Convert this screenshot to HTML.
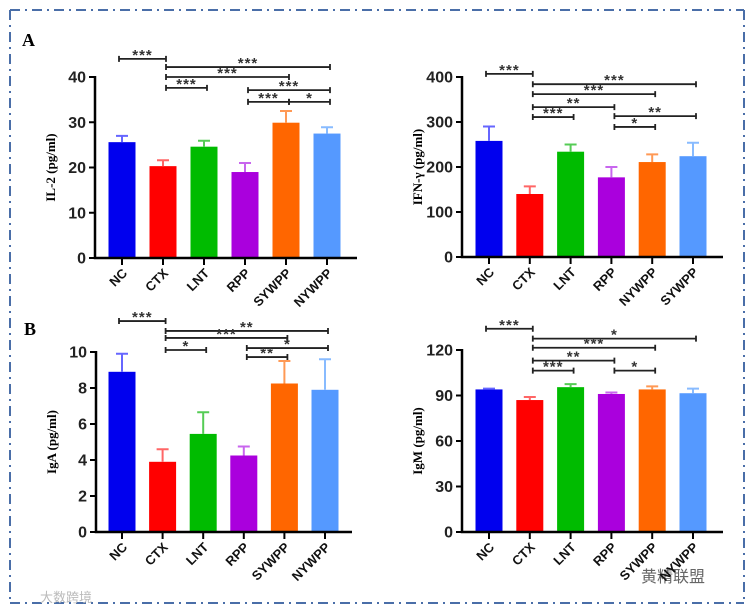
<!DOCTYPE html>
<html><head><meta charset="utf-8"><style>
body{margin:0;background:#fff;}
svg{display:block;font-family:"Liberation Sans",Arial,sans-serif;}
</style></head><body>
<svg id="fig" width="753" height="614" viewBox="0 0 753 614">
<g stroke="#4a6ea8" stroke-width="2" stroke-dasharray="10,5,2,5" fill="none">
<line x1="10" y1="10" x2="744" y2="10"/><line x1="10" y1="603" x2="744" y2="603"/>
<line x1="10" y1="10" x2="10" y2="603"/><line x1="744" y1="10" x2="744" y2="603"/>
</g>
<text x="22" y="46" font-family="Liberation Serif,serif" font-weight="bold" font-size="18">A</text>
<text x="24" y="335" font-family="Liberation Serif,serif" font-weight="bold" font-size="18">B</text>
<text x="705" y="582" font-family="Liberation Sans,'Noto Sans CJK SC',sans-serif" font-size="16" fill="#666" text-anchor="end">黄精联盟</text>
<text x="40" y="602" font-family="Liberation Sans,'Noto Sans CJK SC',sans-serif" font-size="13" fill="#bbb">大数跨境</text>
</svg>
<script>
const colors=["#0000ee","#ff0000","#00bb00","#aa00dd","#ff6600","#5599ff"];
const errColors=["#6666ff","#ff6666","#55cc55","#c866ee","#ff9955","#88bbff"];
const catsA1=["NC","CTX","LNT","RPP","SYWPP","NYWPP"];
const catsA2=["NC","CTX","LNT","RPP","NYWPP","SYWPP"];
const catsB1=["NC","CTX","LNT","RPP","SYWPP","NYWPP"];
const catsB2=["NC","CTX","LNT","RPP","SYWPP","NYWPP"];
const valsA1=[25.6,20.3,24.6,19.0,29.9,27.5];
const errA1=[27.0,21.6,25.9,21.0,32.5,28.9];
const valsA2=[258,140,234,177,211,224];
const errA2=[290,157,250,200,228,254];
const valsB1=[8.9,3.9,5.45,4.25,8.25,7.9];
const errB1=[9.9,4.6,6.65,4.75,9.5,9.6];
const valsB2=[94,87,95.5,91,94,91.5];
const errB2=[94.5,89,97.5,92,96,94.5];
const ticksA1=[0,10,20,30,40];
const ticksA2=[0,100,200,300,400];
const ticksB1=[0,2,4,6,8,10];
const ticksB2=[0,30,60,90,120];
// significance brackets: [fromIndex,toIndex,level(data units),label]
const sigA1=[[0,1,44,"***"],[1,5,42.2,"***"],[1,4,40,"***"],[1,2,37.6,"***"],[3,5,37.1,"***"],[3,4,34.5,"***"],[4,5,34.5,"*"]];
const sigA2=[[0,1,407,"***"],[1,5,384,"***"],[1,4,362,"***"],[1,3,333,"**"],[1,2,311,"***"],[3,5,313,"**"],[3,4,289,"*"]];
const sigB1=[[0,1,11.72,"***"],[1,5,11.17,"**"],[1,4,10.78,"***"],[1,2,10.11,"*"],[3,5,10.22,"*"],[3,4,9.72,"**"]];
const sigB2=[[0,1,134,"***"],[1,5,127.5,"*"],[1,4,121.5,"***"],[1,3,113,"**"],[1,2,106.4,"***"],[3,4,106.4,"*"]];

const NS="http://www.w3.org/2000/svg";
const svg=document.getElementById('fig');
function mk(tag,attrs,parent){const e=document.createElementNS(NS,tag);for(const k in attrs)e.setAttribute(k,attrs[k]);parent.appendChild(e);return e;}

function panel(cfg,cats,vals,errs,ticks,sig){
  const g=mk('g',{},svg);
  
  
  const ymax=ticks[ticks.length-1];
  const y=v=>cfg.y0-(v/ymax)*(cfg.y0-cfg.ytop);
  const x=i=>cfg.x0+cfg.first+i*cfg.step;
  vals.forEach((v,i)=>{
    const r=mk('rect',{x:x(i)-13.5,y:y(v),width:27,height:cfg.y0-y(v),fill:colors[i]},g);
    
    
    const e=mk('path',{d:`M${x(i)},${y(v)}V${y(errs[i])}M${x(i)-6},${y(errs[i])}H${x(i)+6}`,stroke:errColors[i],'stroke-width':2,fill:'none'},g);
    
    
  });
  const ax=mk('path',{d:`M${cfg.x0},${cfg.ytop-1}V${cfg.y0}H${cfg.xend}`,stroke:'#000','stroke-width':2.5,fill:'none'},g);
  
  
  ticks.forEach(t=>{
    mk('line',{x1:cfg.x0-6,x2:cfg.x0,y1:y(t),y2:y(t),stroke:'#000','stroke-width':2},g);
    const tl=mk('text',{x:cfg.x0-9,y:y(t)+5.5,'text-anchor':'end','font-size':16,'font-weight':'bold',fill:'#222'},g);
    tl.textContent=t;
    
    
  });
  cats.forEach((c,i)=>{
    mk('line',{x1:x(i),x2:x(i),y1:cfg.y0,y2:cfg.y0+7,stroke:'#000','stroke-width':2},g);
    const tx=x(i)+6,ty=cfg.y0+16;
    const cl=mk('text',{x:tx,y:ty,'text-anchor':'end','font-size':13,'font-weight':'bold',fill:'#111',transform:`rotate(-45 ${tx} ${ty})`},g);
    cl.textContent=c;
    
    
  });
  const ty=(cfg.y0+cfg.ytop)/2;
  const yt=mk('text',{x:cfg.x0-40,y:ty,'text-anchor':'middle','font-size':13,'font-weight':'bold','font-family':'Liberation Serif,serif',transform:`rotate(-90 ${cfg.x0-40} ${ty})`},g);
  yt.textContent=cfg.title;
  
  
  sig.forEach(s=>{
    const yy=y(s[2]),xa=x(s[0])+(s[0]==0?-3:3),xb=x(s[1])+3;
    const p=mk('path',{d:`M${xa},${yy}H${xb}M${xa},${yy-3}V${yy+3}M${xb},${yy-3}V${yy+3}`,stroke:'#222','stroke-width':1.8,fill:'none'},g);
    
    
    const st=mk('text',{x:(xa+xb)/2,y:yy+1,'text-anchor':'middle','font-size':15,'font-weight':'bold','letter-spacing':'1',fill:'#333'},g);
    st.textContent=s[3];
    
    
  });
}
panel({name:'il2-chart',x0:95,y0:258,ytop:77,xend:357,first:27,step:41,title:'IL-2 (pg/ml)'},catsA1,valsA1,errA1,ticksA1,sigA1);
panel({name:'ifn-gamma-chart',x0:462,y0:257,ytop:77,xend:723,first:27,step:40.8,title:'IFN-γ (pg/ml)'},catsA2,valsA2,errA2,ticksA2,sigA2);
panel({name:'iga-chart',x0:96,y0:532,ytop:352,xend:352,first:26,step:40.6,title:'IgA (pg/ml)'},catsB1,valsB1,errB1,ticksB1,sigB1);
panel({name:'igm-chart',x0:462,y0:532,ytop:350,xend:723,first:27,step:40.8,title:'IgM (pg/ml)'},catsB2,valsB2,errB2,ticksB2,sigB2);
</script>
</body></html>
